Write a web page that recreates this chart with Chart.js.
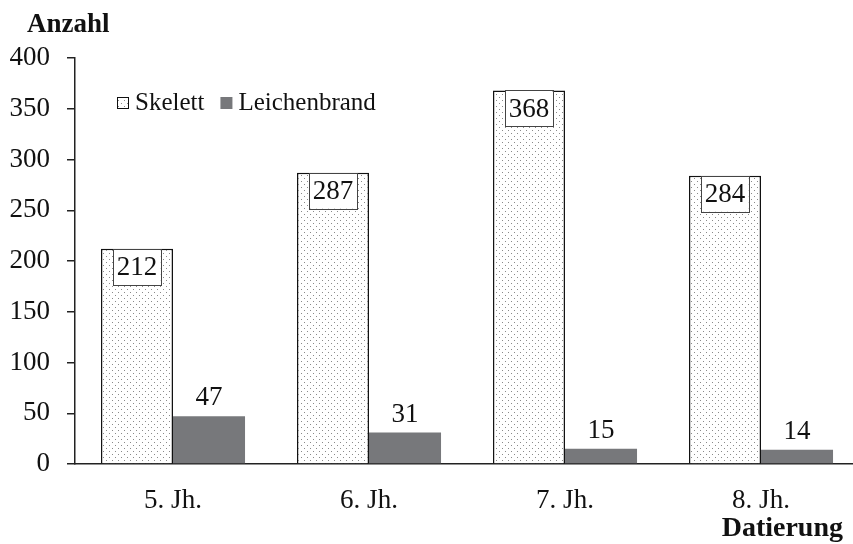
<!DOCTYPE html>
<html>
<head>
<meta charset="utf-8">
<script src="https://cdn.jsdelivr.net/npm/chart.js@4.4.0/dist/chart.umd.min.js"></script>
<style>
    html, body { margin: 0; padding: 0; background: #fff; overflow: hidden; }
    canvas { display: block; }
</style>
</head>
<body>
<canvas id="barChart" width="860" height="544"></canvas>
<script>
const categories = ['5. Jh.', '6. Jh.', '7. Jh.', '8. Jh.'];
const skelett = [212, 287, 368, 284];
const leichenbrand = [47, 31, 15, 14];
const seriesNames = ['Skelett', 'Leichenbrand'];
const yTicks = [0, 50, 100, 150, 200, 250, 300, 350, 400];

const FONT = '"Liberation Serif", "Times New Roman", serif';

// gepunktetes Muster fuer Skelett
function makeDots() {
    const c = document.createElement('canvas');
    c.width = 6;
    c.height = 6;
    const g = c.getContext('2d');
    g.fillStyle = '#fff';
    g.fillRect(0, 0, 6, 6);
    g.fillStyle = '#8a8a8a';
    g.fillRect(1, 1, 1, 1);
    g.fillRect(4, 4, 1, 1);
    return g.createPattern(c, 'repeat');
}

const ctx = document.getElementById('barChart').getContext('2d');
const dots = makeDots();

const labelPlugin = {
    id: 'labelPlugin',
    afterDatasetsDraw(chart) {
        const c = chart.ctx;
        c.save();
        c.font = `27px ${FONT}`;
        c.textAlign = 'center';
        chart.getDatasetMeta(0).data.forEach((bar, i) => {
            const txt = String(chart.data.datasets[0].data[i]);
            const w = c.measureText(txt).width + 7;
            const top = bar.y;
            c.fillStyle = '#fff';
            c.fillRect(bar.x - w / 2, top, w, 36);
            c.strokeStyle = '#444';
            c.lineWidth = 1;
            c.strokeRect(Math.round(bar.x - w / 2) + 0.5, Math.round(top) + 0.5, Math.round(w), 36);
            c.fillStyle = '#111';
            c.textBaseline = 'middle';
            c.fillText(txt, bar.x, top + 19);
        });
        chart.getDatasetMeta(1).data.forEach((bar, i) => {
            const txt = String(chart.data.datasets[1].data[i]);
            c.fillStyle = '#111';
            c.textBaseline = 'alphabetic';
            c.fillText(txt, bar.x, bar.y - 11);
        });
        c.restore();
    },
    afterDraw(chart) {
        const c = chart.ctx;
        c.save();
        c.fillStyle = '#111';
        c.font = `bold 27px ${FONT}`;
        c.textBaseline = 'middle';
        c.textAlign = 'left';
        c.fillText('Anzahl', 27, 25);
        c.font = `bold 28px ${FONT}`;
        c.textAlign = 'right';
        c.fillText('Datierung', 843, 529);

        // Legende
        c.font = `25px ${FONT}`;
        c.textAlign = 'left';
        let x = 117;
        const y = 103;
        chart.data.datasets.forEach((ds, i) => {
            if (i === 0) {
                c.fillStyle = dots;
                c.fillRect(x, y - 6, 12, 12);
                c.strokeStyle = '#111';
                c.lineWidth = 1;
                c.strokeRect(x + 0.5, y - 5.5, 11, 11);
            } else {
                c.fillStyle = ds.backgroundColor;
                c.fillRect(x, y - 6, 12, 12);
            }
            c.fillStyle = '#111';
            c.fillText(ds.label, x + 18, y);
            x += 18 + c.measureText(ds.label).width + 16;
        });
        c.restore();
    }
};

new Chart(ctx, {
    type: 'bar',
    data: {
        labels: categories,
        datasets: [{
            label: seriesNames[0],
            data: skelett,
            backgroundColor: dots,
            borderColor: '#111',
            borderWidth: 1.5,
            borderSkipped: 'bottom'
        }, {
            label: seriesNames[1],
            data: leichenbrand,
            backgroundColor: '#77787b',
            borderWidth: 0
        }]
    },
    options: {
        responsive: false,
        animation: false,
        layout: { padding: { left: 10, top: 58, right: 1, bottom: 0 } },
        datasets: {
            bar: { categoryPercentage: 0.735, barPercentage: 1 }
        },
        plugins: {
            legend: { display: false },
            tooltip: { enabled: false }
        },
        scales: {
            x: {
                grid: { display: false },
                border: { color: '#222', width: 1.5 },
                ticks: {
                    color: '#111',
                    font: { family: FONT, size: 27 },
                    padding: 13
                },
                afterFit(scale) { scale.height = 80; }
            },
            y: {
                min: 0,
                max: 400,
                afterBuildTicks(scale) { scale.ticks = yTicks.map(v => ({ value: v })); },
                grid: { drawOnChartArea: false, drawTicks: true, tickLength: 8, color: '#222', lineWidth: 1.5 },
                border: { color: '#222', width: 1.5 },
                ticks: {
                    color: '#111',
                    font: { family: FONT, size: 27 },
                    padding: 17
                },
                afterFit(scale) { scale.width = 65; }
            }
        }
    },
    plugins: [labelPlugin]
});
</script>
</body>
</html>
